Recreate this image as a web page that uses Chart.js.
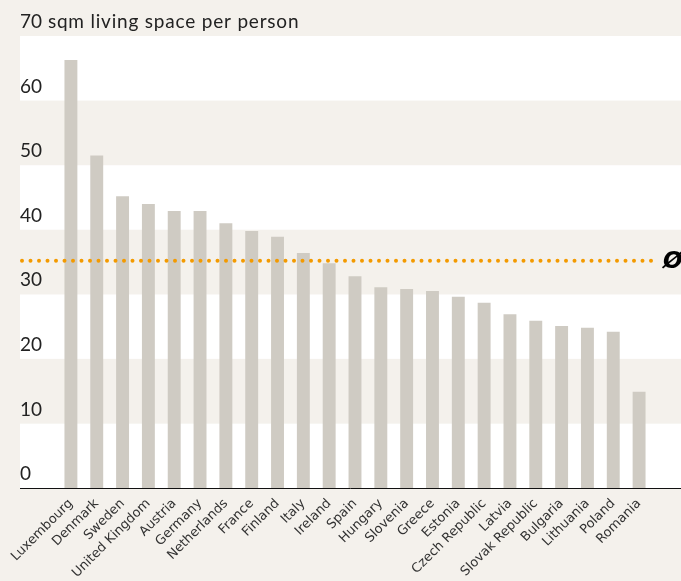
<!DOCTYPE html>
<html>
<head>
<meta charset="utf-8">
<script src="https://cdn.jsdelivr.net/npm/chart.js@4"></script>
<style>
    body { margin: 0; background: #f4f1ec; }
    #wrap { width: 681px; height: 581px; }
</style>
</head>
<body>
<div id="wrap"><canvas id="spaceChart" width="681" height="581"></canvas></div>
<script>
// 数据
const countries = ['Luxembourg', 'Denmark', 'Sweden', 'United Kingdom', 'Austria', 'Germany',
    'Netherlands', 'France', 'Finland', 'Italy', 'Ireland', 'Spain', 'Hungary', 'Slovenia',
    'Greece', 'Estonia', 'Czech Republic', 'Latvia', 'Slovak Republic', 'Bulgaria',
    'Lithuania', 'Poland', 'Romania'];
const livingSpace = [66.3, 51.5, 45.2, 44.0, 42.9, 42.9, 41.0, 39.8, 38.9, 36.4, 34.8,
    32.8, 31.1, 30.8, 30.5, 29.6, 28.7, 26.9, 25.9, 25.1, 24.8, 24.2, 14.9];
const average = 35.2;
const yTicks = [0, 10, 20, 30, 40, 50, 60, 70];
const unitLabel = 'sqm living space per person';

const beige = '#f4f1ec';
const tickFont = { family: 'Lato', size: 19 };
const labelOffset = -14;

// 背景条纹、坐标轴线、平均线、单位文字
const bandsPlugin = {
    id: 'bands',
    beforeDraw(chart) {
        const ctx = chart.ctx;
        const y = chart.scales.y;
        const left = y.left;
        const right = chart.width;
        ctx.save();
        ctx.fillStyle = beige;
        ctx.fillRect(0, 0, chart.width, chart.height);
        for (let i = 0; i < yTicks.length - 1; i++) {
            ctx.fillStyle = i % 2 === 0 ? '#ffffff' : beige;
            const top = y.getPixelForValue(yTicks[i + 1]);
            const bottom = y.getPixelForValue(yTicks[i]);
            ctx.fillRect(left, top, right - left, bottom - top);
        }
        ctx.restore();
    },
    afterDraw(chart) {
        const ctx = chart.ctx;
        const y = chart.scales.y;
        const area = chart.chartArea;
        ctx.save();
        // x 轴线
        const base = Math.round(y.getPixelForValue(0)) + 0.5;
        ctx.strokeStyle = '#111';
        ctx.lineWidth = 1;
        ctx.beginPath();
        ctx.moveTo(y.left, base);
        ctx.lineTo(chart.width, base);
        ctx.stroke();
        // 平均线
        const ay = y.getPixelForValue(average);
        ctx.strokeStyle = '#f39a00';
        ctx.lineWidth = 4;
        ctx.lineCap = 'round';
        ctx.setLineDash([0, 8.5]);
        ctx.beginPath();
        ctx.moveTo(y.left + 2, ay);
        ctx.lineTo(area.right, ay);
        ctx.stroke();
        ctx.setLineDash([]);
        ctx.fillStyle = '#000';
        ctx.font = 'italic bold 23px "DejaVu Sans"';
        ctx.textBaseline = 'middle';
        ctx.textAlign = 'left';
        ctx.fillText('Ø', area.right + 11, ay + 1);
        // 最上面刻度后的单位
        const topVal = yTicks[yTicks.length - 1];
        ctx.font = tickFont.size + 'px ' + tickFont.family;
        ctx.fillStyle = '#222';
        const tx = y.left + ctx.measureText(String(topVal) + ' ').width + 1;
        ctx.letterSpacing = '0.8px';
        ctx.fillText(unitLabel, tx, y.getPixelForValue(topVal) + labelOffset);
        ctx.restore();
    }
};

const ctx = document.getElementById('spaceChart').getContext('2d');
new Chart(ctx, {
    type: 'bar',
    data: {
        labels: countries,
        datasets: [{
            data: livingSpace,
            backgroundColor: '#cfcbc3',
            borderWidth: 0,
            barPercentage: 0.5,
            categoryPercentage: 1.0
        }]
    },
    options: {
        responsive: false,
        animation: false,
        layout: {
            padding: { left: 20, right: 29, top: 36, bottom: 0 }
        },
        plugins: {
            legend: { display: false },
            tooltip: { enabled: false }
        },
        scales: {
            x: {
                grid: { display: false },
                border: { display: false },
                afterFit(scale) { scale.height = 93; },
                ticks: {
                    autoSkip: false,
                    maxRotation: 45,
                    minRotation: 45,
                    padding: 0,
                    color: '#333',
                    font: { family: 'DejaVu Sans', size: 13 }
                }
            },
            y: {
                min: 0,
                max: 70,
                grid: { display: false },
                border: { display: false },
                afterFit(scale) { scale.width = 38; },
                afterBuildTicks(scale) {
                    scale.ticks = yTicks.map(v => ({ value: v }));
                },
                ticks: {
                    crossAlign: 'far',
                    labelOffset: labelOffset,
                    color: '#222',
                    font: tickFont
                }
            }
        }
    },
    plugins: [bandsPlugin]
});
</script>
</body>
</html>
